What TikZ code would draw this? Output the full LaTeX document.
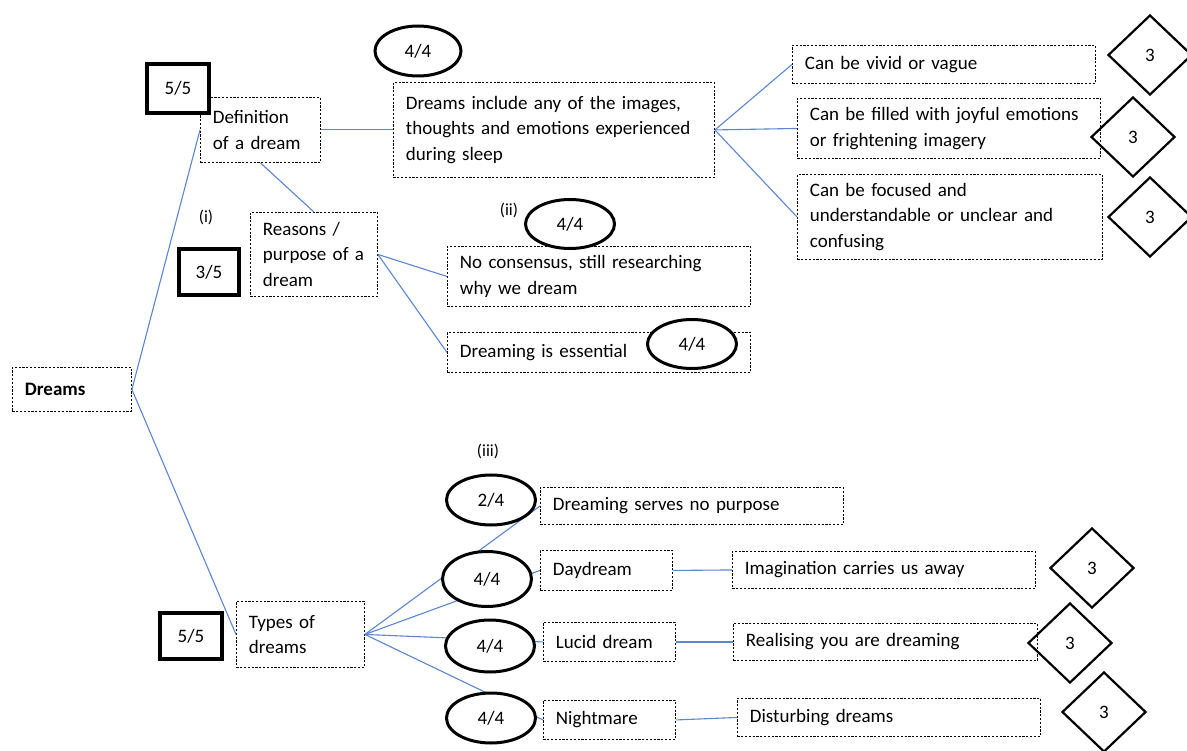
\documentclass[tikz,border=0pt]{standalone}
\usepackage{fontspec}
\setmainfont{Carlito}
\usetikzlibrary{shapes.geometric}
\definecolor{lineblue}{RGB}{91,134,210}
\newcommand\txtfont{\fontsize{19}{25.5}\selectfont}
\begin{document}
\begin{tikzpicture}[x=1pt,y=-1pt,
  box/.style={draw, dash pattern=on 2.2pt off 1.6pt, line width=0.9pt, fill=white,
    inner xsep=12.5pt, inner ysep=0pt, align=left, anchor=north west, font=\txtfont},
  conn/.style={draw=lineblue, line width=1.1pt},
  score/.style={draw, line width=4pt, fill=white, inner sep=0pt, font=\txtfont},
  oval/.style={ellipse, draw, line width=3pt, fill=white, inner sep=0pt, minimum width=89, font=\txtfont},
  dia/.style={diamond, draw, line width=2.2pt, inner sep=0pt, minimum width=84, minimum height=80, font=\txtfont},
  roman/.style={font=\fontsize{17}{20}\selectfont, inner sep=0pt}]
\useasboundingbox (0,0) rectangle (1187,751);
% boxes
\node[box, minimum width=119, minimum height=44, text width=94pt] (dreams) at (12,367) {\textbf{Dreams}};
\node[box, minimum width=120, minimum height=65, text width=95pt] (def) at (200,97) {Definition\\of a dream};
\node[box, minimum width=127, minimum height=84, text width=102pt] (reasons) at (250,212) {Reasons /\\purpose of a\\dream};
\node[box, minimum width=321, minimum height=95, text width=296pt] (incl) at (393,82) {Dreams include any of the images,\\thoughts and emotions experienced\\during sleep};
\node[box, minimum width=303, minimum height=38, text width=278pt] (vivid) at (792,45) {Can be vivid or vague};
\node[box, minimum width=303, minimum height=60, text width=278pt] (filled) at (797,98) {Can be filled with joyful emotions\\or frightening imagery};
\node[box, minimum width=305, minimum height=85, text width=280pt] (focused) at (797,174) {Can be focused and\\understandable or unclear and\\confusing};
\node[box, minimum width=303, minimum height=60, text width=278pt] (nocons) at (447,246) {No consensus, still researching\\why we dream};
\node[box, minimum width=303, minimum height=40, text width=278pt] (essential) at (447,332) {Dreaming is essential};
\node[box, minimum width=128, minimum height=66, text width=103pt] (types) at (236,601) {Types of\\dreams};
\node[box, minimum width=303, minimum height=37, text width=278pt] (serves) at (540,487) {Dreaming serves no purpose};
\node[box, minimum width=132, minimum height=40, text width=107pt] (day) at (540,550) {Daydream};
\node[box, minimum width=132, minimum height=39, text width=107pt] (lucid) at (543,622) {Lucid dream};
\node[box, minimum width=132, minimum height=39, text width=107pt] (night) at (543,700) {Nightmare};
\node[box, minimum width=303, minimum height=37, text width=278pt] (imag) at (732,551) {Imagination carries us away};
\node[box, minimum width=304, minimum height=37, text width=279pt] (real) at (733,623) {Realising you are dreaming};
\node[box, minimum width=303, minimum height=38, text width=278pt] (dist) at (737,698) {Disturbing dreams};
% connectors
\draw[conn] (dreams.east) -- (def.west);
\draw[conn] (dreams.east) -- (types.west);
\draw[conn] (def.south) -- (reasons.north);
\draw[conn] (def.east) -- (incl.west);
\draw[conn] (incl.east) -- (vivid.west);
\draw[conn] (incl.east) -- (filled.west);
\draw[conn] (incl.east) -- (focused.west);
\draw[conn] (reasons.east) -- (nocons.west);
\draw[conn] (reasons.east) -- (essential.west);
\draw[conn] (types.east) -- (serves.west);
\draw[conn] (types.east) -- (day.west);
\draw[conn] (types.east) -- (lucid.west);
\draw[conn] (types.east) -- (night.west);
\draw[conn] (day.east) -- (imag.west);
\draw[conn] (lucid.east) -- (real.west);
\draw[conn] (night.east) -- (dist.west);
% score boxes
\node[score, minimum width=62, minimum height=49] (s1) at (178,88.5) {5/5};
\node[score, minimum width=60, minimum height=46] (s2) at (209,272) {3/5};
\node[score, minimum width=62, minimum height=46] (s3) at (191,636) {5/5};
% ovals
\node[oval, minimum width=86, minimum height=50] (e1) at (418,51) {4/4};
\node[oval, minimum height=49] (e2) at (570,224) {4/4};
\node[oval, minimum height=49] (e3) at (692,344) {4/4};
\node[oval, minimum height=50] (e4) at (491,500) {2/4};
\node[oval, minimum height=55] (e5) at (487,579) {4/4};
\node[oval, minimum height=52] (e6) at (490,646) {4/4};
\node[oval, minimum height=50] (e7) at (491,718) {4/4};
% diamonds
\node[dia] (d1) at (1150,55) {3};
\node[dia] (d2) at (1133,137) {3};
\node[dia] (d3) at (1150,217) {3};
\node[dia] (d4) at (1092,568) {3};
\node[dia] (d5) at (1070,643) {3};
\node[dia] (d6) at (1104,712) {3};
% roman labels
\node[roman] (li) at (206,217) {(i)};
\node[roman] (lii) at (509,210) {(ii)};
\node[roman] (liii) at (488,451) {(iii)};
\end{tikzpicture}
\end{document}
